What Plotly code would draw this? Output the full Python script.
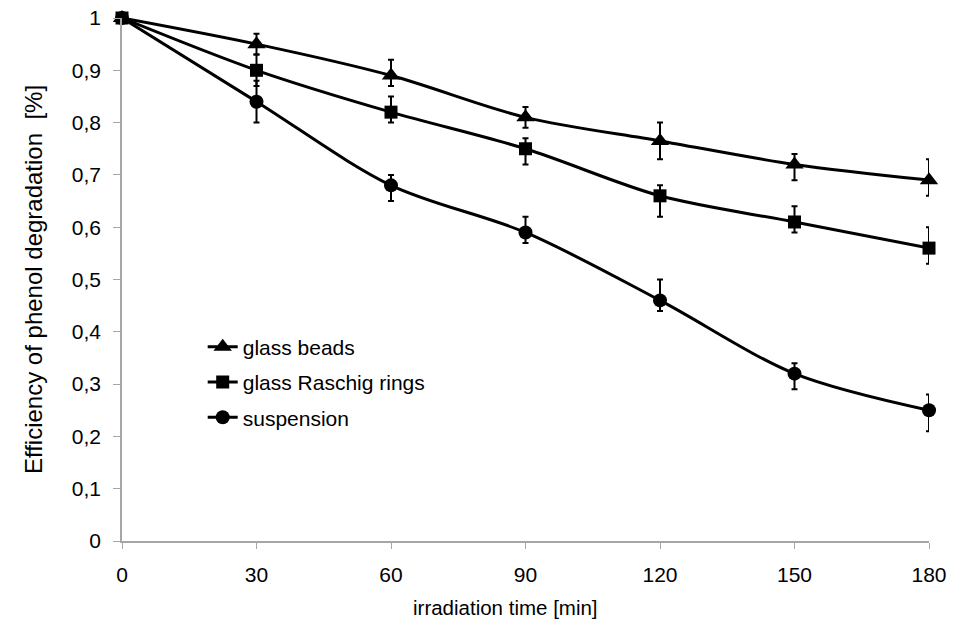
import plotly.graph_objects as go

time_min = [0, 30, 60, 90, 120, 150, 180]

beads = [1.0, 0.95, 0.89, 0.81, 0.765, 0.72, 0.69]
beads_err_plus = [0.0, 0.02, 0.03, 0.02, 0.035, 0.02, 0.04]
beads_err_minus = [0.0, 0.02, 0.02, 0.02, 0.035, 0.03, 0.03]

raschig = [1.0, 0.90, 0.82, 0.75, 0.66, 0.61, 0.56]
raschig_err_plus = [0.0, 0.03, 0.03, 0.02, 0.02, 0.03, 0.04]
raschig_err_minus = [0.0, 0.03, 0.02, 0.03, 0.04, 0.02, 0.03]

suspension = [1.0, 0.84, 0.68, 0.59, 0.46, 0.32, 0.25]
susp_err_plus = [0.0, 0.04, 0.02, 0.03, 0.04, 0.02, 0.03]
susp_err_minus = [0.0, 0.04, 0.03, 0.02, 0.02, 0.03, 0.04]

y_ticks = [0, 0.1, 0.2, 0.3, 0.4, 0.5, 0.6, 0.7, 0.8, 0.9, 1.0]
y_tick_labels = ["0", "0,1", "0,2", "0,3", "0,4", "0,5", "0,6", "0,7", "0,8", "0,9", "1"]
x_ticks = [0, 30, 60, 90, 120, 150, 180]

FONT = "Liberation Sans, Arial, sans-serif"

series = [
    ("glass beads", beads, beads_err_plus, beads_err_minus, "triangle-up", 16),
    ("glass Raschig rings", raschig, raschig_err_plus, raschig_err_minus, "square", 13),
    ("suspension", suspension, susp_err_plus, susp_err_minus, "circle", 14),
]

fig = go.Figure()
for i, (name, ys, ep, em, sym, sz) in enumerate(series):
    fig.add_trace(go.Scatter(
        x=time_min, y=ys, name=name, mode="lines+markers", legendgroup=f"g{i}",
        line=dict(color="black", width=3, shape="spline", smoothing=0.9),
        marker=dict(symbol=sym, size=sz, color="black"),
        error_y=dict(type="data", symmetric=False, array=ep, arrayminus=em,
                     color="black", thickness=2, width=3),
        cliponaxis=False,
    ))

fig.update_layout(
    width=956, height=623,
    margin=dict(l=122, r=27, t=18, b=82),
    paper_bgcolor="white", plot_bgcolor="white",
    font=dict(family=FONT, size=21, color="black"),
    showlegend=True,
    legend=dict(x=0.10, y=0.41, xanchor="left", yanchor="top",
                bgcolor="rgba(0,0,0,0)", font=dict(family=FONT, size=21),
                itemwidth=30, tracegroupgap=5),
    xaxis=dict(range=[0, 180], tickvals=x_ticks, showgrid=False, zeroline=False,
               showline=True, linecolor="#a6a6a6", linewidth=1.5,
               ticks="outside", ticklen=6, tickcolor="#a6a6a6", ticklabelstandoff=8,
               ticklabeloverflow="allow", automargin=False),
    yaxis=dict(range=[0, 1], tickvals=y_ticks, ticktext=y_tick_labels, showgrid=False,
               zeroline=False, showline=True, linecolor="#a6a6a6", linewidth=1.5,
               ticks="outside", ticklen=7, tickcolor="#a6a6a6", ticklabelstandoff=8,
               ticklabeloverflow="allow", automargin="left",
               title=dict(text="Efficiency of phenol degradation  [%]", font=dict(size=24), standoff=22)),
    annotations=[dict(text="irradiation time [min]", xref="paper", yref="paper",
                      x=0.5, y=-0.128, xshift=-20, showarrow=False,
                      xanchor="center", yanchor="middle", font=dict(size=20.5))],
)

fig.write_html("out.html", config={"displayModeBar": False},
               post_script="document.body.style.margin='0';")
